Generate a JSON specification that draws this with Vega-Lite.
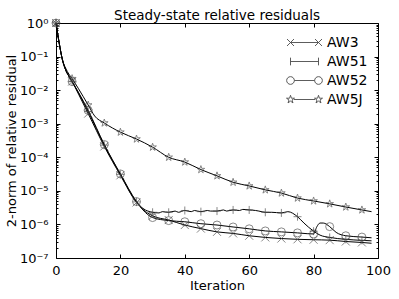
{
  "$schema": "https://vega.github.io/schema/vega-lite/v6.json",
  "width": 322,
  "height": 235,
  "autosize": "none",
  "padding": {"left": 56, "top": 23, "right": 21, "bottom": 41},
  "background": "white",
  "config": {
    "font": "DejaVu Sans",
    "view": {"stroke": null},
    "axis": {"grid": false, "domainColor": "black", "tickColor": "black", "labelColor": "black", "titleColor": "black", "labelFont": "DejaVu Sans", "titleFont": "DejaVu Sans", "titleFontWeight": "normal", "labelFontSize": 13, "titleFontSize": 13}
  },
  "title": {"text": "Steady-state relative residuals", "fontSize": 13.5, "fontWeight": "normal", "font": "DejaVu Sans", "color": "black", "offset": 0, "dy": 5},
  "data": {"values": [
    {"s":"AW3","it":0,"r":1},{"s":"AW3","it":1,"r":0.25},{"s":"AW3","it":2,"r":0.08},{"s":"AW3","it":3,"r":0.04},{"s":"AW3","it":4,"r":0.026},{"s":"AW3","it":5,"r":0.018},{"s":"AW3","it":7,"r":0.0076},{"s":"AW3","it":10,"r":0.002},{"s":"AW3","it":15,"r":0.00021},{"s":"AW3","it":20,"r":0.000029},{"s":"AW3","it":25,"r":0.0000045},{"s":"AW3","it":27,"r":0.0000028},{"s":"AW3","it":30,"r":0.0000018},{"s":"AW3","it":35,"r":0.00000135},{"s":"AW3","it":40,"r":0.00000096},{"s":"AW3","it":45,"r":0.00000075},{"s":"AW3","it":50,"r":0.0000006},{"s":"AW3","it":55,"r":0.00000054},{"s":"AW3","it":60,"r":0.00000046},{"s":"AW3","it":65,"r":0.00000041},{"s":"AW3","it":70,"r":0.00000038},{"s":"AW3","it":75,"r":0.00000036},{"s":"AW3","it":80,"r":0.00000035},{"s":"AW3","it":85,"r":0.00000034},{"s":"AW3","it":90,"r":0.00000031},{"s":"AW3","it":95,"r":0.00000029},{"s":"AW3","it":98,"r":0.000000275},
    {"s":"AW51","it":0,"r":1},{"s":"AW51","it":1,"r":0.25},{"s":"AW51","it":2,"r":0.08},{"s":"AW51","it":3,"r":0.04},{"s":"AW51","it":4,"r":0.026},{"s":"AW51","it":5,"r":0.018},{"s":"AW51","it":7,"r":0.0082},{"s":"AW51","it":10,"r":0.0023},{"s":"AW51","it":15,"r":0.00023},{"s":"AW51","it":20,"r":0.000031},{"s":"AW51","it":25,"r":0.0000047},{"s":"AW51","it":27,"r":0.000003},{"s":"AW51","it":30,"r":0.0000023},{"s":"AW51","it":32,"r":0.0000022},{"s":"AW51","it":33,"r":0.0000024},{"s":"AW51","it":35,"r":0.0000023},{"s":"AW51","it":37,"r":0.0000025},{"s":"AW51","it":38,"r":0.0000023},{"s":"AW51","it":40,"r":0.0000026},{"s":"AW51","it":42,"r":0.0000024},{"s":"AW51","it":43,"r":0.0000026},{"s":"AW51","it":45,"r":0.0000024},{"s":"AW51","it":47,"r":0.0000026},{"s":"AW51","it":48,"r":0.0000025},{"s":"AW51","it":50,"r":0.0000025},{"s":"AW51","it":52,"r":0.0000027},{"s":"AW51","it":53,"r":0.0000025},{"s":"AW51","it":55,"r":0.0000027},{"s":"AW51","it":57,"r":0.0000026},{"s":"AW51","it":58,"r":0.0000028},{"s":"AW51","it":60,"r":0.0000027},{"s":"AW51","it":62,"r":0.0000026},{"s":"AW51","it":63,"r":0.0000025},{"s":"AW51","it":65,"r":0.0000023},{"s":"AW51","it":67,"r":0.0000023},{"s":"AW51","it":70,"r":0.0000022},{"s":"AW51","it":72,"r":0.0000024},{"s":"AW51","it":75,"r":0.0000017},{"s":"AW51","it":77,"r":0.0000011},{"s":"AW51","it":80,"r":0.00000063},{"s":"AW51","it":82,"r":0.00000048},{"s":"AW51","it":85,"r":0.00000041},{"s":"AW51","it":90,"r":0.00000036},{"s":"AW51","it":95,"r":0.000000335},{"s":"AW51","it":98,"r":0.000000325},
    {"s":"AW52","it":0,"r":1},{"s":"AW52","it":1,"r":0.25},{"s":"AW52","it":2,"r":0.08},{"s":"AW52","it":3,"r":0.04},{"s":"AW52","it":4,"r":0.026},{"s":"AW52","it":5,"r":0.018},{"s":"AW52","it":7,"r":0.0085},{"s":"AW52","it":10,"r":0.0025},{"s":"AW52","it":15,"r":0.00024},{"s":"AW52","it":20,"r":0.000032},{"s":"AW52","it":25,"r":0.0000048},{"s":"AW52","it":27,"r":0.0000027},{"s":"AW52","it":30,"r":0.0000016},{"s":"AW52","it":35,"r":0.0000013},{"s":"AW52","it":40,"r":0.0000012},{"s":"AW52","it":45,"r":0.00000105},{"s":"AW52","it":50,"r":0.00000096},{"s":"AW52","it":55,"r":0.00000084},{"s":"AW52","it":60,"r":0.00000074},{"s":"AW52","it":65,"r":0.00000064},{"s":"AW52","it":70,"r":0.0000006},{"s":"AW52","it":75,"r":0.00000056},{"s":"AW52","it":78,"r":0.00000053},{"s":"AW52","it":80,"r":0.00000052},{"s":"AW52","it":81,"r":0.00000085},{"s":"AW52","it":82,"r":0.0000011},{"s":"AW52","it":83,"r":0.0000011},{"s":"AW52","it":85,"r":0.00000086},{"s":"AW52","it":87,"r":0.00000058},{"s":"AW52","it":90,"r":0.00000046},{"s":"AW52","it":95,"r":0.00000042},{"s":"AW52","it":98,"r":0.0000004},
    {"s":"AW5J","it":0,"r":1},{"s":"AW5J","it":1,"r":0.25},{"s":"AW5J","it":2,"r":0.08},{"s":"AW5J","it":3,"r":0.045},{"s":"AW5J","it":4,"r":0.03},{"s":"AW5J","it":5,"r":0.022},{"s":"AW5J","it":7,"r":0.011},{"s":"AW5J","it":10,"r":0.0036},{"s":"AW5J","it":12,"r":0.0017},{"s":"AW5J","it":15,"r":0.00105},{"s":"AW5J","it":20,"r":0.00056},{"s":"AW5J","it":25,"r":0.00035},{"s":"AW5J","it":30,"r":0.0002},{"s":"AW5J","it":35,"r":0.0001},{"s":"AW5J","it":40,"r":0.000072},{"s":"AW5J","it":45,"r":0.000043},{"s":"AW5J","it":50,"r":0.000028},{"s":"AW5J","it":55,"r":0.000018},{"s":"AW5J","it":60,"r":0.000014},{"s":"AW5J","it":65,"r":0.0000107},{"s":"AW5J","it":70,"r":0.0000086},{"s":"AW5J","it":75,"r":0.0000061},{"s":"AW5J","it":80,"r":0.000005},{"s":"AW5J","it":85,"r":0.0000041},{"s":"AW5J","it":90,"r":0.0000033},{"s":"AW5J","it":95,"r":0.0000027},{"s":"AW5J","it":98,"r":0.0000024}
  ]},
  "resolve": {"axis": {"x": "independent", "y": "independent"}, "scale": {"shape": "independent"}},
  "layer": [
    {
      "mark": {"type": "line", "color": "black", "strokeWidth": 1, "interpolate": "monotone"},
      "encoding": {
        "x": {"field": "it", "type": "quantitative", "scale": {"domain": [0, 100], "nice": false},
              "axis": {"orient": "bottom", "title": "Iteration", "values": [0,20,40,60,80,100], "tickSize": -4, "labelPadding": 10, "titlePadding": 2, "labelFlush": false}},
        "y": {"field": "r", "type": "quantitative", "scale": {"type": "log", "domain": [1e-7, 1], "nice": false},
              "axis": {"orient": "left", "title": "2-norm of relative residual", "values": [1e-7,1e-6,1e-5,1e-4,1e-3,1e-2,1e-1,1], "tickSize": -4, "labelPadding": 12, "titlePadding": 1,
                       "labelExpr": "'10' + ['⁰','⁻¹','⁻²','⁻³','⁻⁴','⁻⁵','⁻⁶','⁻⁷'][round(-log(datum.value)/LN10)]", "labelFlush": false}},
        "detail": {"field": "s"}
      }
    },
    {
      "transform": [{"filter": "datum.it % 5 === 0 && datum.it < 98"}],
      "mark": {"type": "point", "filled": false, "stroke": "#444", "strokeWidth": 0.9, "size": 64},
      "encoding": {
        "x": {"field": "it", "type": "quantitative", "axis": {"orient": "top", "title": null, "labels": false, "values": [0,20,40,60,80,100], "tickSize": -4}},
        "y": {"field": "r", "type": "quantitative", "axis": {"orient": "right", "title": null, "labels": false, "values": [1e-7,1e-6,1e-5,1e-4,1e-3,1e-2,1e-1,1], "tickSize": -4}},
        "shape": {"field": "s", "type": "nominal", "legend": null,
          "scale": {"domain": ["AW3","AW51","AW52","AW5J"], "range": ["M-1,-1L1,1M-1,1L1,-1", "M-1,0L1,0M0,-1L0,1", "circle", "M0,-1L0.225,-0.309L0.951,-0.309L0.363,0.118L0.588,0.809L0,0.382L-0.588,0.809L-0.363,0.118L-0.951,-0.309L-0.225,-0.309Z"]}
        }
      }
    },
    {
      "transform": [{"filter": "datum.it < 0"}],
      "mark": {"type": "point", "filled": false, "stroke": "black", "strokeWidth": 0.9},
      "encoding": {
        "x": {"field": "it", "type": "quantitative", "axis": null},
        "y": {"field": "r", "type": "quantitative", "axis": null},
        "shape": {"field": "s", "type": "nominal",
          "scale": {"domain": ["AW3","AW51","AW52","AW5J"], "range": [
            "M-2,0L2,0M-2.5,-0.5L-1.5,0.5M-2.5,0.5L-1.5,-0.5M1.5,-0.5L2.5,0.5M1.5,0.5L2.5,-0.5",
            "M-2,0L2,0M-2,-0.55L-2,0.55M2,-0.55L2,0.55",
            "M-1.45,0L1.45,0M-1.45,0A0.55,0.55,0,1,1,-2.55,0A0.55,0.55,0,1,1,-1.45,0M2.55,0A0.55,0.55,0,1,1,1.45,0A0.55,0.55,0,1,1,2.55,0",
            "M-1.5,0L1.5,0M-2,-0.6L-1.865,-0.185L-1.429,-0.185L-1.782,0.071L-1.647,0.485L-2,0.229L-2.353,0.485L-2.218,0.071L-2.571,-0.185L-2.135,-0.185ZM2,-0.6L2.135,-0.185L2.571,-0.185L2.218,0.071L2.353,0.485L2,0.229L1.647,0.485L1.782,0.071L1.429,-0.185L1.865,-0.185Z"]},
          "legend": {"title": null, "orient": "none", "legendX": 241, "legendY": 12, "padding": 0, "symbolSize": 196, "symbolStrokeColor": "black", "symbolFillColor": "transparent", "symbolStrokeWidth": 0.9, "labelFontSize": 14, "labelFont": "DejaVu Sans", "labelColor": "black", "labelOffset": 15, "rowPadding": 4}
        }
      }
    },
    {
      "mark": {"type": "line", "strokeOpacity": 0},
      "encoding": {
        "x": {"field": "it", "type": "quantitative", "axis": null},
        "y": {"field": "r", "type": "quantitative", "axis": {"orient": "left", "title": null, "labels": false, "domain": false, "tickSize": -2,
          "values": [2e-7,3e-7,4e-7,5e-7,6e-7,7e-7,8e-7,9e-7,2e-6,3e-6,4e-6,5e-6,6e-6,7e-6,8e-6,9e-6,2e-5,3e-5,4e-5,5e-5,6e-5,7e-5,8e-5,9e-5,2e-4,3e-4,4e-4,5e-4,6e-4,7e-4,8e-4,9e-4,2e-3,3e-3,4e-3,5e-3,6e-3,7e-3,8e-3,9e-3,2e-2,3e-2,4e-2,5e-2,6e-2,7e-2,8e-2,9e-2,0.2,0.3,0.4,0.5,0.6,0.7,0.8,0.9]}},
        "detail": {"field": "s"}
      }
    },
    {
      "mark": {"type": "line", "strokeOpacity": 0},
      "encoding": {
        "x": {"field": "it", "type": "quantitative", "axis": null},
        "y": {"field": "r", "type": "quantitative", "axis": {"orient": "right", "title": null, "labels": false, "domain": false, "tickSize": -2,
          "values": [2e-7,3e-7,4e-7,5e-7,6e-7,7e-7,8e-7,9e-7,2e-6,3e-6,4e-6,5e-6,6e-6,7e-6,8e-6,9e-6,2e-5,3e-5,4e-5,5e-5,6e-5,7e-5,8e-5,9e-5,2e-4,3e-4,4e-4,5e-4,6e-4,7e-4,8e-4,9e-4,2e-3,3e-3,4e-3,5e-3,6e-3,7e-3,8e-3,9e-3,2e-2,3e-2,4e-2,5e-2,6e-2,7e-2,8e-2,9e-2,0.2,0.3,0.4,0.5,0.6,0.7,0.8,0.9]}},
        "detail": {"field": "s"}
      }
    }
  ]
}
